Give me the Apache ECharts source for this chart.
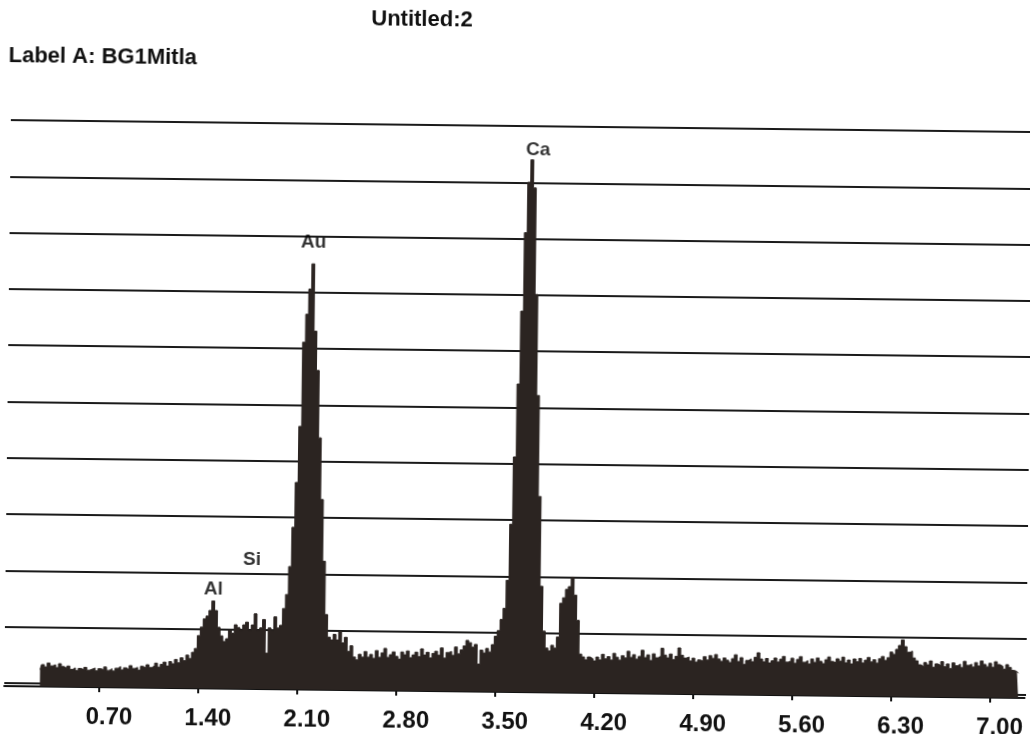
<!DOCTYPE html>
<html><head><meta charset="utf-8">
<script src="https://cdn.jsdelivr.net/npm/echarts@6/dist/echarts.min.js"></script>
<style>
html,body{margin:0;padding:0;background:#fff;overflow:hidden}
#c{width:1030px;height:734px;transform:rotate(0.67deg);transform-origin:515px 367px}
</style>
</head><body><div id="c"></div>
<script>
const chartTitle = 'Untitled:2';
const chartLabel = 'Label A: BG1Mitla';
const tickValues = [0.70, 1.40, 2.10, 2.80, 3.50, 4.20, 4.90, 5.60, 6.30, 7.00];
const channelStep = 0.02;

// spectrum segments (keV start, counts in grid-line units)
const lowStart = 0.28;
const lowCounts = [0.21,0.30,0.26,0.33,0.28,0.30,0.25,0.32,0.27,0.24,
  0.28,0.22,0.25,0.20,0.24,0.22,0.26,0.21,0.23,0.25,
  0.20,0.24,0.22,0.27,0.21,0.24,0.20,0.25,0.28,0.22,
  0.26,0.23,0.30,0.25,0.27,0.22,0.29,0.26,0.32,0.27,
  0.30,0.35,0.28,0.33,0.37,0.30,0.38,0.34,0.42,0.36,
  0.45,0.40,0.50,0.44,0.55,0.62];
const alSiStart = 1.40;
const alSiCounts = [0.85,1.00,1.15,1.20,1.30,1.47,1.30,1.00,0.85,0.75,
  0.80,0.95,0.90,1.05,1.00,0.95,1.05,1.10,0.95,1.05,
  1.25,0.95,1.00,1.15,0.55,1.00,0.95,1.20,1.00,1.05];
const auStart = 2.00;
const auCounts = [1.35,1.60,2.10,2.80,3.60,4.60,6.10,6.60,7.05,7.50,
  6.30,5.60,4.40,3.30,2.20,1.25,0.85,0.80];
const midStart = 2.36;
const midCounts = [0.90,0.80,0.95,0.75,0.85,0.60,0.70,0.50,0.45,0.55,
  0.50,0.60,0.50,0.55,0.48,0.62,0.50,0.58,0.66,0.50,
  0.55,0.60,0.52,0.47,0.60,0.55,0.62,0.50,0.55,0.60,
  0.52,0.66,0.55,0.60,0.50,0.58,0.62,0.55,0.68,0.50,
  0.60,0.62,0.55,0.70,0.58,0.65,0.72,0.82,0.78,0.70,
  0.75,0.40,0.65,0.60,0.68,0.62,0.75];
const caStart = 3.50;
const caCounts = [0.90,1.00,1.20,1.40,1.90,2.90,4.10,5.40,6.70,8.10,
  9.00,9.40,8.90,7.00,5.20,3.40,1.80,1.00,0.70,0.65,
  0.75,0.70,0.90,1.50,1.60,1.75,1.80,1.97,1.65,1.20,
  0.60,0.55,0.50];
const highStart = 4.16;
const highCounts = [0.55,0.52,0.48,0.55,0.50,0.60,0.52,0.56,0.50,0.62,
  0.55,0.50,0.58,0.54,0.66,0.55,0.60,0.52,0.57,0.68,
  0.55,0.60,0.50,0.62,0.55,0.58,0.72,0.60,0.55,0.62,
  0.52,0.58,0.73,0.60,0.55,0.57,0.50,0.55,0.48,0.52,
  0.50,0.58,0.52,0.60,0.55,0.62,0.54,0.50,0.56,0.52,
  0.48,0.55,0.62,0.50,0.57,0.45,0.52,0.55,0.50,0.58,
  0.66,0.55,0.50,0.56,0.48,0.52,0.57,0.50,0.55,0.60,
  0.50,0.52,0.57,0.48,0.55,0.60,0.50,0.53,0.47,0.56,
  0.50,0.58,0.52,0.48,0.55,0.60,0.52,0.50,0.57,0.53,
  0.60,0.50,0.55,0.48,0.57,0.52,0.58,0.50,0.55,0.60,
  0.52,0.56,0.50,0.58,0.62,0.55,0.60,0.70,0.66,0.75,
  0.82,0.92,0.80,0.70,0.72,0.60,0.55,0.48,0.45,0.52,
  0.48,0.55,0.44,0.50,0.47,0.54,0.45,0.50,0.42,0.52,
  0.47,0.50,0.44,0.55,0.48,0.50,0.45,0.53,0.47,0.56,
  0.50,0.46,0.52,0.45,0.55,0.50,0.47,0.42,0.50,0.45,
  0.40,0.38,0.35];

const peakNames = ['Al', 'Si', 'Au', 'Ca'];
const peakEnergies = [1.50, 1.77, 2.18, 3.76];
const peakLabelLevels = [1.68, 2.22, 7.88, 9.58];

const segments = [[lowStart, lowCounts], [alSiStart, alSiCounts], [auStart, auCounts],
  [midStart, midCounts], [caStart, caCounts], [highStart, highCounts]];
const spectrum = [];
segments.forEach(([s, arr]) => arr.forEach((v, i) => spectrum.push([+(s + i * channelStep).toFixed(3), v])));

const fontFam = '"Liberation Sans", Arial, sans-serif';
const chart = echarts.init(document.getElementById('c'), null, {renderer: 'canvas'});
chart.setOption({
  animation: false,
  backgroundColor: '#fff',
  graphic: [
    {type: 'text', x: 418, y: 21, style: {text: chartTitle, fontSize: 22, fontWeight: 'bold', fontFamily: fontFam, fill: '#111', textAlign: 'center', textVerticalAlign: 'middle'}},
    {type: 'text', x: 5, y: 62, style: {text: chartLabel, fontSize: 22, fontWeight: 'bold', fontFamily: fontFam, fill: '#111', textAlign: 'left', textVerticalAlign: 'middle'}}
  ],
  grid: [
    {left: 8, right: 0, top: 126, bottom: 40},
    {left: 8, right: 0, top: 126, bottom: 45}
  ],
  xAxis: [
    {gridIndex: 0, type: 'value', min: 0.028, max: 7.246,
      axisLine: {show: true, onZero: false, lineStyle: {color: '#111', width: 2}},
      axisTick: {show: true, customValues: tickValues, length: 5, lineStyle: {color: '#111', width: 2}},
      axisLabel: {customValues: tickValues, formatter: v => v.toFixed(2), fontSize: 24, fontWeight: 'bold',
        fontFamily: fontFam, color: '#111', margin: 18, padding: [0, 0, 0, 20]},
      splitLine: {show: false}},
    {gridIndex: 1, type: 'value', min: 0.028, max: 7.246, show: false}
  ],
  yAxis: [
    {gridIndex: 0, type: 'value', min: -0.09, max: 10, show: false},
    {gridIndex: 1, type: 'value', min: 0, max: 10, interval: 1,
      axisLine: {show: false}, axisTick: {show: false}, axisLabel: {show: false},
      splitLine: {show: true, lineStyle: {color: '#1a1a1a', width: 2}}}
  ],
  series: [
    {type: 'line', xAxisIndex: 0, yAxisIndex: 0, data: spectrum, step: 'middle', symbol: 'none',
      lineStyle: {color: '#2b2421', width: 1}, areaStyle: {color: '#2b2421', opacity: 1, origin: 'start'}, z: 3},
    {type: 'scatter', xAxisIndex: 0, yAxisIndex: 0, symbolSize: 1, itemStyle: {color: 'rgba(0,0,0,0)'},
      data: peakNames.map((n, i) => ({name: n, value: [peakEnergies[i], peakLabelLevels[i]]})),
      label: {show: true, position: 'inside', formatter: p => p.name, fontSize: 19, fontWeight: 'bold',
        fontFamily: fontFam, color: '#000'}, z: 5}
  ]
});
</script>
</body></html>
